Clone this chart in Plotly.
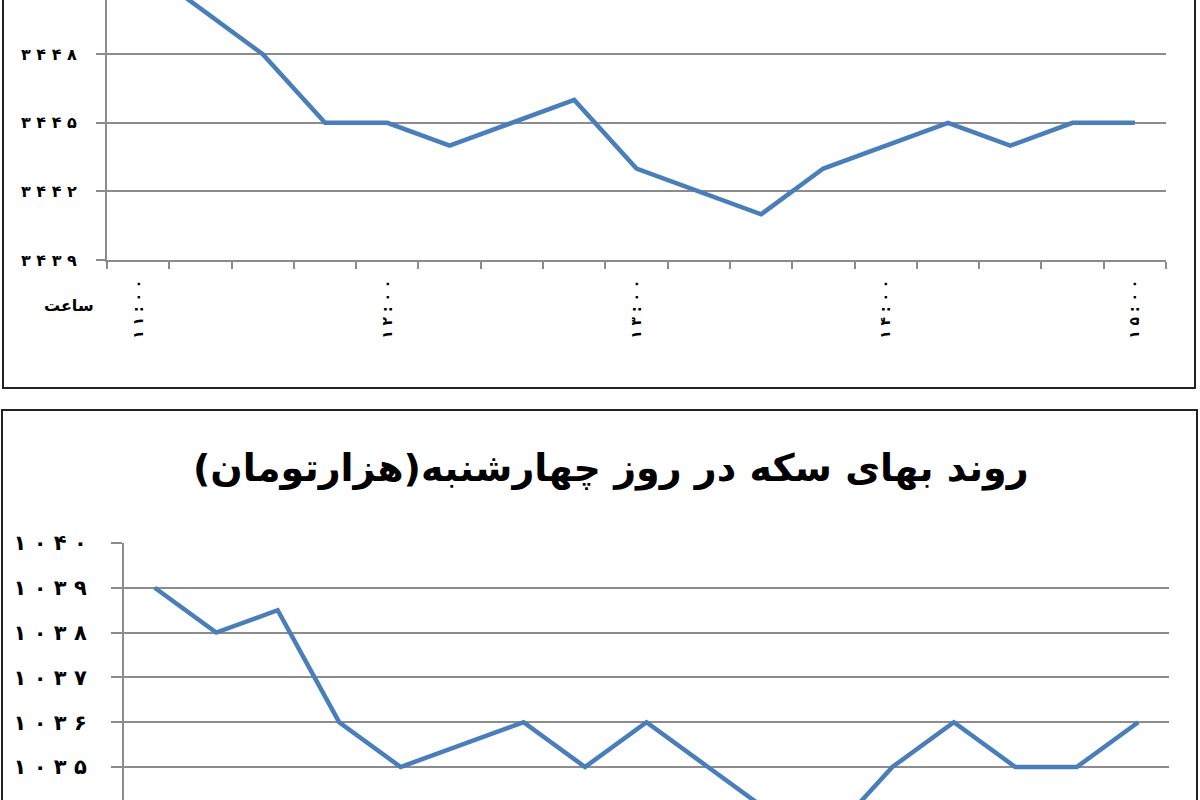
import plotly.graph_objects as go

# ساعت معامله، هر ربع ساعت
times = ["۱۱:۰۰", "۱۱:۱۵", "۱۱:۳۰", "۱۱:۴۵",
         "۱۲:۰۰", "۱۲:۱۵", "۱۲:۳۰", "۱۲:۴۵",
         "۱۳:۰۰", "۱۳:۱۵", "۱۳:۳۰", "۱۳:۴۵",
         "۱۴:۰۰", "۱۴:۱۵", "۱۴:۳۰", "۱۴:۴۵",
         "۱۵:۰۰"]

# top chart (title cut off in the picture)
top_values = [3452, 3450, 3448, 3445, 3445, 3444, 3445, 3446, 3443,
              3442, 3441, 3443, 3444, 3445, 3444, 3445, 3445]
top_ticks = [3439, 3442, 3445, 3448, 3451]

# coin price on Wednesday
coin_values = [1039, 1038, 1038.5, 1036, 1035, 1035.5, 1036, 1035, 1036,
               1035, 1034, 1033.5, 1035, 1036, 1035, 1035, 1036]
coin_ticks = [1034, 1035, 1036, 1037, 1038, 1039, 1040]

title_text = "روند بهای سکه در روز چهارشنبه(هزارتومان)"
x_title = "ساعت"

W, H = 1200, 800
FA = str.maketrans("0123456789", "۰۱۲۳۴۵۶۷۸۹")


def fa_num(v):
    return " ".join(str(v).translate(FA))


def px_x(p):
    return p / W


def px_y(p):
    return 1 - p / H


line_col = "#4a7ebb"
grid_col = "#8c8c8c"
font_fa = "DejaVu Sans"

fig = go.Figure()
fig.add_trace(go.Scatter(x=times, y=top_values, mode="lines",
                         line=dict(color=line_col, width=4.5),
                         xaxis="x", yaxis="y", showlegend=False))
fig.add_trace(go.Scatter(x=times, y=coin_values, mode="lines",
                         line=dict(color=line_col, width=4.5),
                         xaxis="x2", yaxis="y2", showlegend=False))

# pixel scale of each panel
top_px_per_unit = 68.6 / 3
top_axis_px = 260
coin_px_per_unit = 44.8
coin_top_px = 543

fig.update_layout(
    width=W, height=H,
    margin=dict(l=0, r=0, t=0, b=0, autoexpand=False),
    paper_bgcolor="white", plot_bgcolor="white",
    font=dict(family=font_fa, color="black"),
    xaxis=dict(domain=[px_x(107), px_x(1166)], type="category",
               range=[-0.5, len(times) - 0.5],
               tickmode="array", tickvals=times,
               ticktext=[" ".join(t) if t.endswith(":۰۰") else "" for t in times],
               tickson="boundaries", ticks="outside", ticklen=7,
               tickwidth=2, tickcolor=grid_col,
               showline=True, linecolor=grid_col, linewidth=2,
               showgrid=False, tickangle=-90, automargin=False,
               ticklabelstandoff=12,
               tickfont=dict(family=font_fa, size=14, weight="bold"),
               anchor="y"),
    yaxis=dict(domain=[px_y(top_axis_px), 1],
               range=[top_ticks[0], top_ticks[0] + top_axis_px / top_px_per_unit],
               tickmode="array", tickvals=top_ticks,
               ticktext=[fa_num(v) for v in top_ticks],
               ticks="outside", ticklen=9, tickwidth=2, tickcolor=grid_col,
               showline=True, linecolor=grid_col, linewidth=2,
               showgrid=True, gridcolor=grid_col, gridwidth=2,
               zeroline=False, ticklabelstandoff=16, automargin=False,
               tickfont=dict(family=font_fa, size=16, weight="bold"),
               anchor="x"),
    xaxis2=dict(domain=[px_x(124), px_x(1169)], type="category",
                range=[-0.5, len(times) - 0.5],
                showticklabels=False, showgrid=False, ticks="",
                showline=False, automargin=False, anchor="y2"),
    yaxis2=dict(domain=[0, px_y(coin_top_px)],
                range=[coin_ticks[-1] - (H - coin_top_px) / coin_px_per_unit,
                       coin_ticks[-1]],
                tickmode="array", tickvals=coin_ticks,
                ticktext=[fa_num(v) for v in coin_ticks],
                ticks="outside", ticklen=11, tickwidth=2, tickcolor=grid_col,
                showline=True, linecolor=grid_col, linewidth=2,
                showgrid=True, gridcolor=grid_col, gridwidth=2,
                zeroline=False, ticklabelstandoff=20, automargin=False,
                tickfont=dict(family=font_fa, size=21, weight="bold"),
                anchor="x2"),
)

# chart frames
frame = dict(color="#222222", width=2)
fig.add_shape(type="rect", xref="paper", yref="paper",
              x0=px_x(3), x1=px_x(1195), y0=px_y(388), y1=1.05,
              line=frame, layer="below")
fig.add_shape(type="rect", xref="paper", yref="paper",
              x0=px_x(2), x1=px_x(1197), y0=-0.05, y1=px_y(410),
              line=frame, layer="below")

fig.add_annotation(text=x_title, xref="paper", yref="paper",
                   x=px_x(96), y=px_y(305), xanchor="right", yanchor="middle",
                   showarrow=False,
                   font=dict(family=font_fa, size=16, weight="bold"))
fig.add_annotation(text=title_text, xref="paper", yref="paper",
                   x=px_x(611), y=px_y(468), xanchor="center", yanchor="middle",
                   showarrow=False,
                   font=dict(family=font_fa, size=38, weight="bold"))

fig.write_html("out.html",
               config={"displayModeBar": False},
               post_script="document.body.style.margin='0';"
                           "document.body.style.overflow='hidden';")
